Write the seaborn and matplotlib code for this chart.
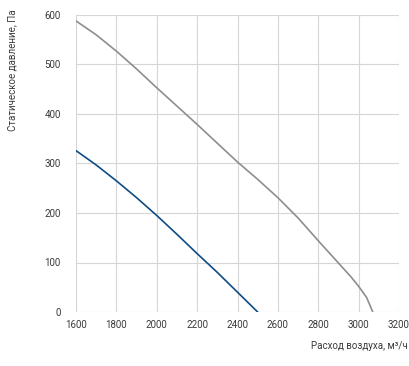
"""Fan curves: static pressure vs air flow."""
import matplotlib
matplotlib.use("Agg")
import matplotlib.pyplot as plt
import pandas as pd
import seaborn as sns

# gray curve (larger fan)
flow_a = [1600, 1700, 1800, 1900, 2000, 2100, 2200, 2300, 2400, 2500,
          2600, 2700, 2800, 2900, 2960, 3000, 3040, 3070]
press_a = [588, 560, 527, 491, 453, 416, 379, 341, 303, 268,
           231, 190, 144, 99, 72, 52, 29, 0]

# blue curve (smaller fan)
flow_b = [1600, 1700, 1800, 1900, 2000, 2100, 2200, 2300, 2400, 2500]
press_b = [326, 297, 265, 231, 195, 157, 118, 80, 40, 0]

x_ticks = [1600, 1800, 2000, 2200, 2400, 2600, 2800, 3000, 3200]
y_ticks = [0, 100, 200, 300, 400, 500, 600]

df = pd.concat([
    pd.DataFrame({"flow": flow_a, "pressure": press_a, "fan": "a"}),
    pd.DataFrame({"flow": flow_b, "pressure": press_b, "fan": "b"}),
])

sns.set_theme(style="white")
plt.rcParams["font.family"] = ["Roboto", "DejaVu Sans"]
text_color = "#3a3a3a"

fig = plt.figure(figsize=(4.09, 3.66), dpi=100)
ax = fig.add_axes([76 / 409, 1 - 312 / 366, 323 / 409, 297 / 366])

sns.lineplot(data=df, x="flow", y="pressure", hue="fan",
             palette={"a": "#8e8e8e", "b": "#0d4c85"},
             linewidth=1.2, legend=False, sort=False, ax=ax)

ax.set_xlim(1600, 3200)
ax.set_ylim(0, 600)
ax.set_xticks(x_ticks)
ax.set_yticks(y_ticks)
ax.grid(True, color="#d6d6d6", linewidth=0.8)
for s in ax.spines.values():
    s.set_visible(False)
ax.tick_params(axis="both", length=0, labelsize=7, colors=text_color)
ax.tick_params(axis="x", pad=6)
ax.tick_params(axis="y", pad=11)
ax.set_xlabel("")
ax.set_ylabel("")

fig.text(12 / 409, 1 - 9 / 366, "Статическое давление, Па", rotation=90,
         ha="center", va="top", fontsize=7, color=text_color)
fig.text(408 / 409, 1 - 346 / 366, "Расход воздуха, м³/ч",
         ha="right", va="center", fontsize=7, color=text_color)

fig.savefig("out.png", dpi=100)
